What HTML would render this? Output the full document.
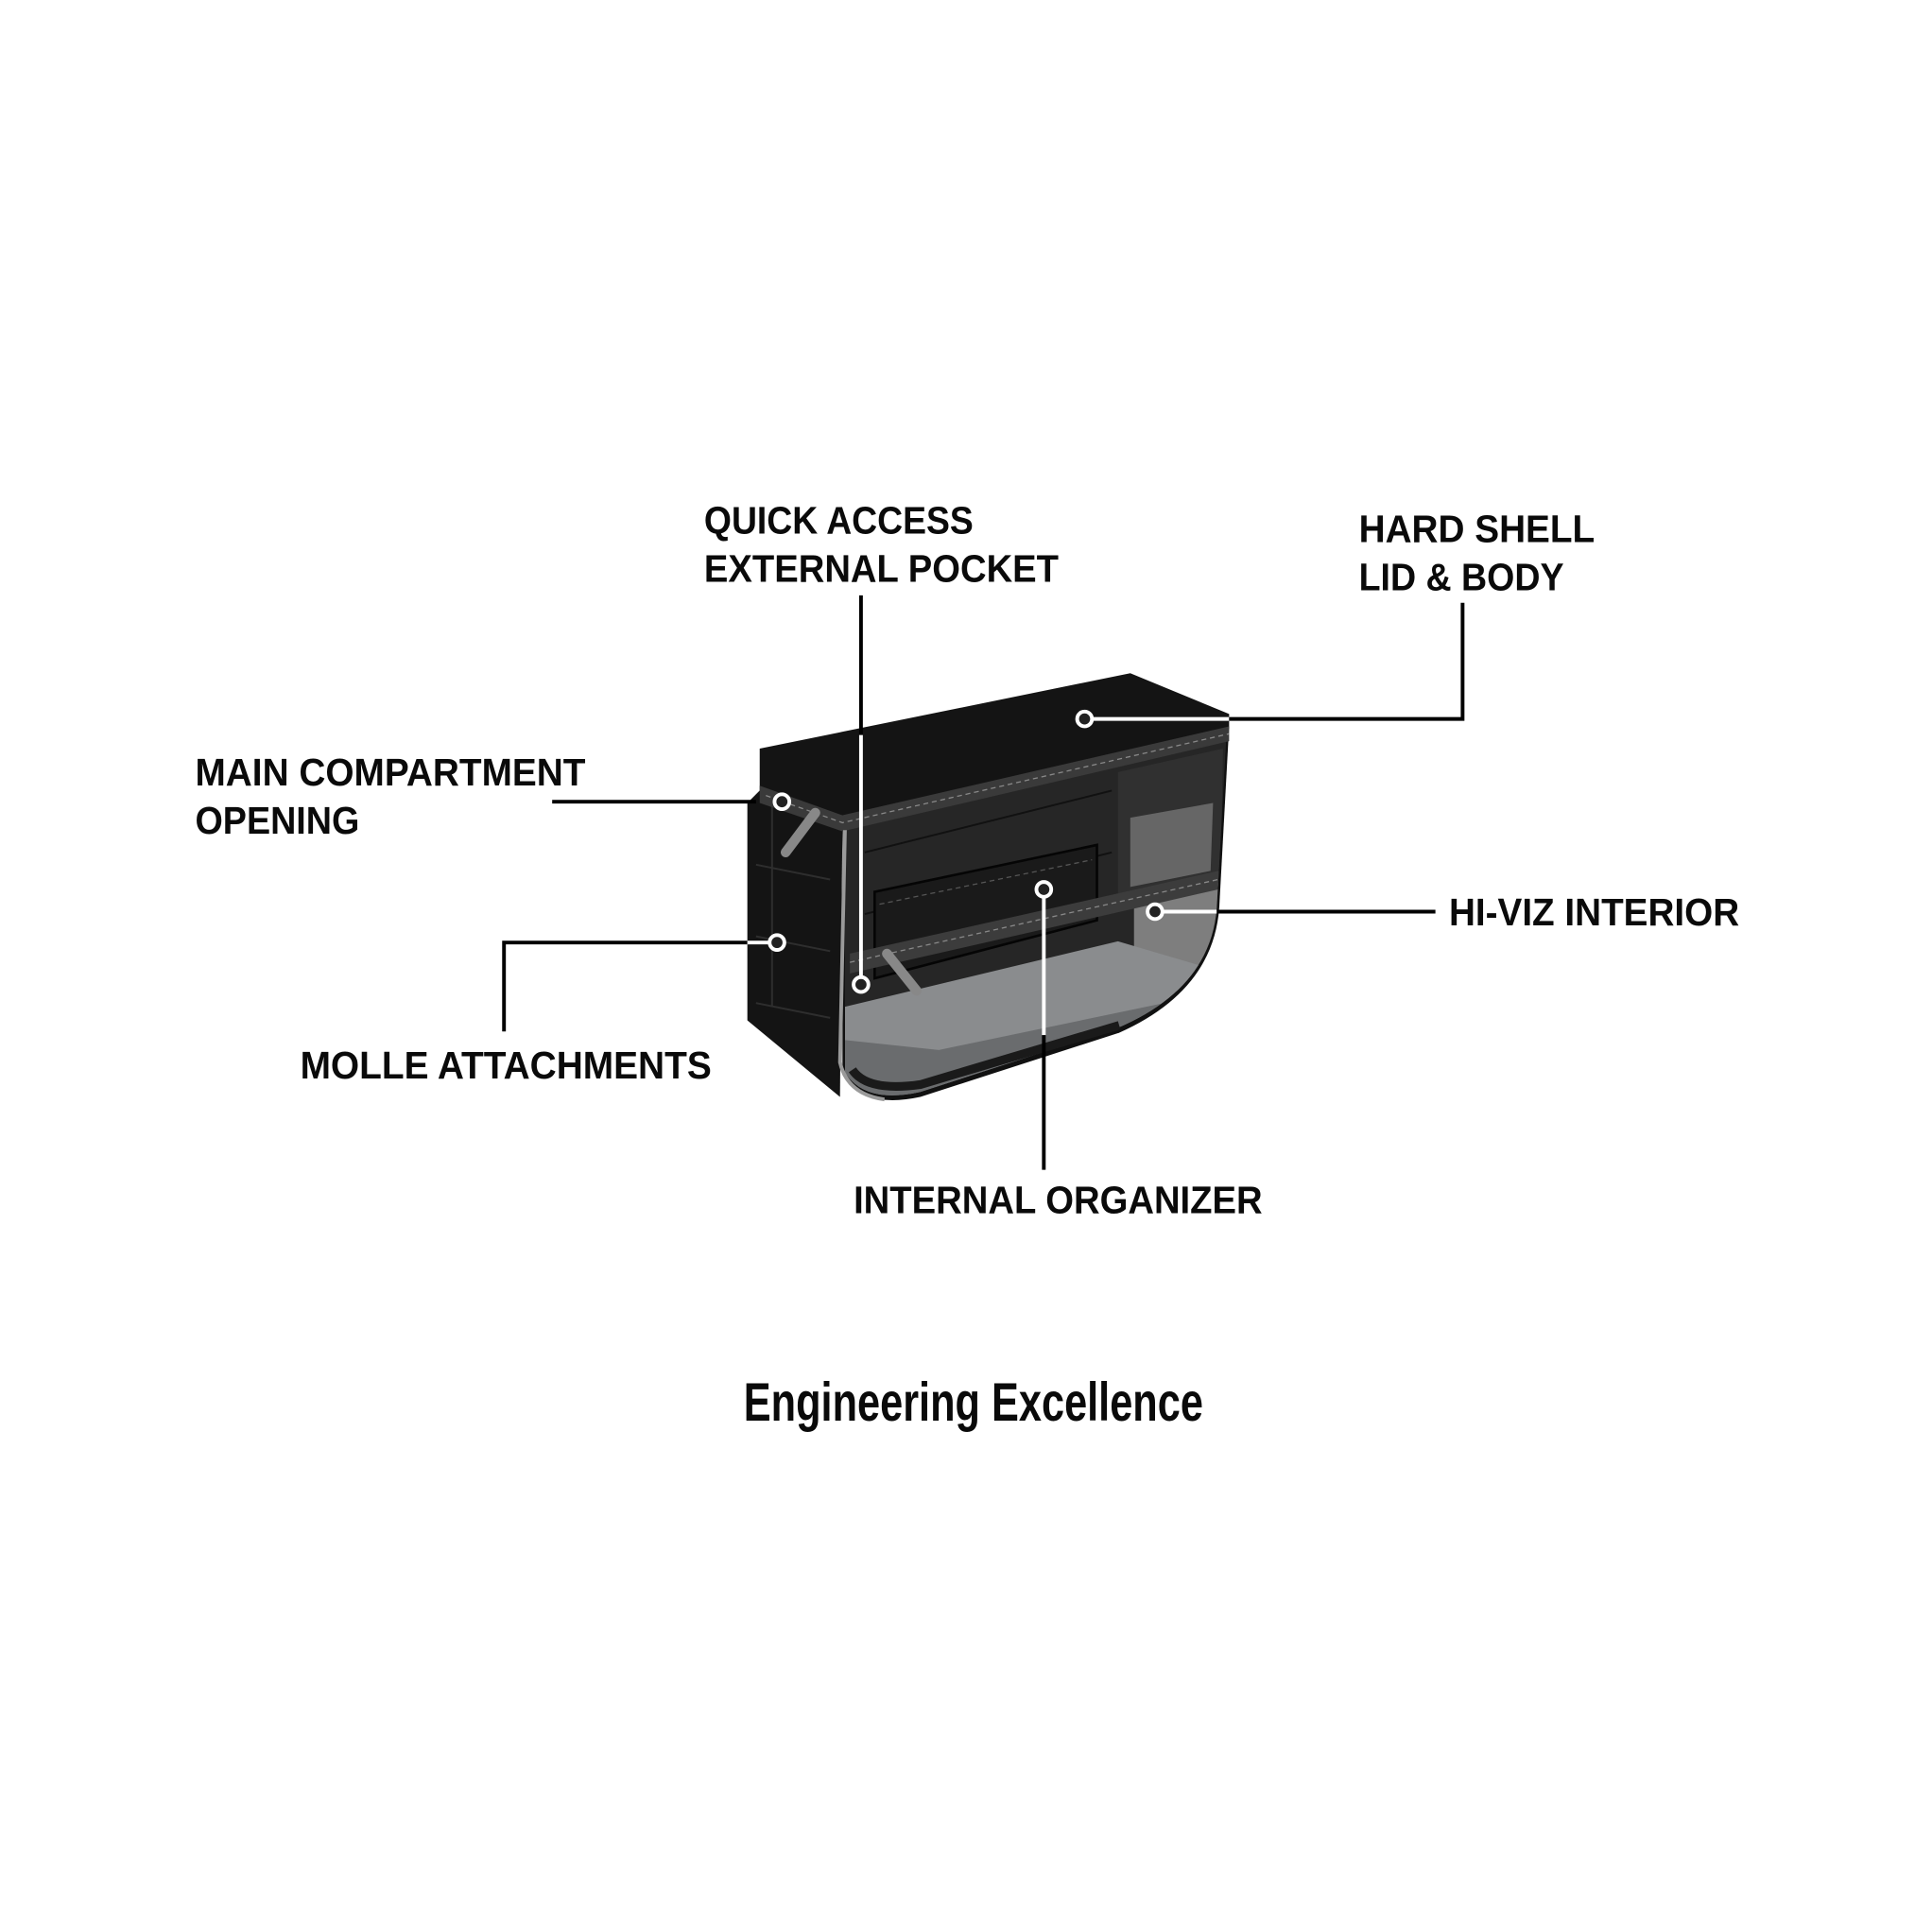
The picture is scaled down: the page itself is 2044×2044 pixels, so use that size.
<!DOCTYPE html>
<html><head><meta charset="utf-8"><style>
html,body{margin:0;padding:0;background:#fff;width:2044px;height:2044px;overflow:hidden}
svg{display:block}
text{font-family:"Liberation Sans Narrow","Liberation Sans",sans-serif;font-weight:bold;fill:#0a0a0a}
</style></head><body>
<svg width="2044" height="2044" viewBox="0 0 1564 1564" xmlns="http://www.w3.org/2000/svg">
<defs>
<clipPath id="body"><path d="M684,664 L993,592 L985,735 Q980,800 905,832 L745,884 Q700,894 684,868 Z"/></clipPath>
</defs>
<rect width="1564" height="1564" fill="#fff"/>
<!-- left side panel -->
<path d="M615,640 L682,664 L680,888 L605,826 L605,650 Z" fill="#141414"/>
<path d="M612,700 L672,712 M612,758 L672,770 M612,812 L672,824 M625,650 L625,815" stroke="#2e2e2e" stroke-width="1.5" fill="none"/>
<!-- front body -->
<path d="M682,662 L995,588 L987,735 Q982,802 906,836 L745,888 Q698,898 682,870 Z" fill="#111"/>
<g clip-path="url(#body)">
<rect x="680" y="580" width="320" height="320" fill="#262626"/>
<path d="M700,690 L900,640 M700,740 L900,690" stroke="#111" stroke-width="1.5"/>
<path d="M905,625 L990,606 L988,720 L905,735 Z" fill="#303030"/>
<path d="M915,662 L982,650 L980,705 L915,718 Z" fill="#666"/>
<path d="M918,728 L990,714 L990,800 L918,805 Z" fill="#7e7e7e"/>
<path d="M684,815 L905,762 L1000,790 L1000,900 L684,900 Z" fill="#8a8c8e"/>
<path d="M684,842 L760,850 L1000,800 L1000,900 L684,900 Z" fill="#6a6c6e"/>
<path d="M684,862 L1000,790 L1000,900 L684,900 Z" fill="#1c1c1c" opacity="0.0"/>
<path d="M708,722 L888,684 L888,745 L708,792 Z" fill="#1a1a1a" stroke="#050505" stroke-width="2"/>
<path d="M712,732 L884,696" stroke="#555" stroke-width="1" stroke-dasharray="4 3"/>
<path d="M688,772 L995,703 L995,718 L688,788 Z" fill="#3c3c3c"/>
<path d="M688,779 L995,710" stroke="#888" stroke-width="1" stroke-dasharray="4 3"/>
</g>
<path d="M690,866 Q702,884 745,878 L906,830" stroke="#1a1a1a" stroke-width="7" fill="none"/>
<!-- lid -->
<path d="M615,606 L915,545 L995,578 L995,590 L682,662 L615,640 Z" fill="#141414"/>
<path d="M615,636 L682,660 L995,588 L995,600 L682,673 L615,650 Z" fill="#3a3a3a"/>
<path d="M620,644 L682,666 L995,594" stroke="#888" stroke-width="1" stroke-dasharray="4 3" fill="none"/>
<!-- reflective edge -->
<path d="M684,672 L680,860 Q686,886 716,890" stroke="#9a9a9a" stroke-width="3" fill="none"/>
<!-- zipper pulls -->
<path d="M660,658 L636,690" stroke="#888" stroke-width="8" stroke-linecap="round"/>
<path d="M718,772 L742,802" stroke="#888" stroke-width="8" stroke-linecap="round"/>
<!-- callout lines -->
<g fill="none" stroke-width="3">
<line x1="697" y1="482" x2="697" y2="595" stroke="#000"/>
<line x1="697" y1="595" x2="697" y2="791" stroke="#fff"/>
<line x1="884" y1="582" x2="995" y2="582" stroke="#fff"/>
<polyline points="995,582 1184,582 1184,488" stroke="#000"/>
<line x1="447" y1="649" x2="612" y2="649" stroke="#000"/>
<polyline points="605,763 408,763 408,835" stroke="#000"/>
<line x1="605" y1="763" x2="623" y2="763" stroke="#fff"/>
<line x1="941" y1="738" x2="985" y2="738" stroke="#fff"/>
<line x1="985" y1="738" x2="1162" y2="738" stroke="#000"/>
<line x1="845" y1="726" x2="845" y2="838" stroke="#fff"/>
<line x1="845" y1="838" x2="845" y2="947" stroke="#000"/>
</g>
<g fill="#222" stroke="#fff" stroke-width="3">
<circle cx="697" cy="797" r="6"/>
<circle cx="878" cy="582" r="6"/>
<circle cx="633" cy="649" r="6"/>
<circle cx="629" cy="763" r="6"/>
<circle cx="935" cy="738" r="6"/>
<circle cx="845" cy="720" r="6"/>
</g>
<!-- labels -->
<g font-size="31">
<text x="570" y="432" textLength="218" lengthAdjust="spacingAndGlyphs">QUICK ACCESS</text>
<text x="570" y="471" textLength="287" lengthAdjust="spacingAndGlyphs">EXTERNAL POCKET</text>
<text x="1100" y="439" textLength="191" lengthAdjust="spacingAndGlyphs">HARD SHELL</text>
<text x="1100" y="478" textLength="166" lengthAdjust="spacingAndGlyphs">LID &amp; BODY</text>
<text x="158" y="636" textLength="316" lengthAdjust="spacingAndGlyphs">MAIN COMPARTMENT</text>
<text x="158" y="675" textLength="133" lengthAdjust="spacingAndGlyphs">OPENING</text>
<text x="1173" y="749" textLength="235" lengthAdjust="spacingAndGlyphs">HI-VIZ INTERIOR</text>
<text x="243" y="873" textLength="333" lengthAdjust="spacingAndGlyphs">MOLLE ATTACHMENTS</text>
<text x="691" y="982" textLength="331" lengthAdjust="spacingAndGlyphs">INTERNAL ORGANIZER</text>
</g>
<text x="602" y="1150" font-size="44" textLength="372" lengthAdjust="spacingAndGlyphs">Engineering Excellence</text>
</svg>
</body></html>
